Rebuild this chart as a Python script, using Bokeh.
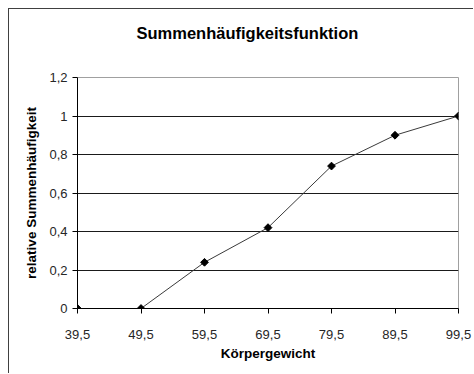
import math
from bokeh.plotting import figure
from bokeh.models import Range1d, FixedTicker, CustomJSTickFormatter, LinearAxis
from bokeh.embed import file_html
from bokeh.resources import INLINE

# Class boundaries (body weight) and cumulative relative frequencies
gewicht = [39.5, 49.5, 59.5, 69.5, 79.5, 89.5, 99.5]
summenhaeufigkeit = [0.0, 0.0, 0.24, 0.42, 0.74, 0.90, 1.0]
y_ticks = [0, 0.2, 0.4, 0.6, 0.8, 1.0, 1.2]

FONT = "Liberation Sans"

p = figure(width=465, height=365, output_backend="svg", toolbar_location=None,
           x_range=Range1d(39.5, 99.5), y_range=Range1d(0, 1.2),
           min_border_left=68, min_border_right=16,
           min_border_top=68, min_border_bottom=66,
           title="Summenhäufigkeitsfunktion")
p.styles = {"margin-left": "8px", "margin-top": "8px",
            "border-left": "1px solid #404040", "border-top": "1px solid #404040"}
p.background_fill_color = "white"
p.border_fill_color = "white"
p.outline_line_color = "#a0a0a0"
p.outline_line_width = 1

x_axis = p.below[0]
y_axis = p.left[0]

# blank axis on top keeps a gap between the title and the plot area
gap = LinearAxis(ticker=FixedTicker(ticks=[gewicht[0]]), axis_line_color=None,
                 major_tick_line_color="white", minor_tick_line_color=None,
                 major_tick_in=0, major_tick_out=36, major_label_standoff=0,
                 major_label_overrides={gewicht[0]: ""},
                 major_label_text_font_size="1px")
p.add_layout(gap, "above")

p.title.align = "left"
p.title.offset = 59
p.title.standoff = 0
p.title.text_font = FONT
p.title.text_font_size = "16.5px"
p.title.text_font_style = "bold"
p.title.text_color = "black"

# horizontal grid
p.xgrid.visible = False
p.ygrid.ticker = FixedTicker(ticks=y_ticks)
p.ygrid.grid_line_color = "#1a1a1a"
p.ygrid.grid_line_width = 1

comma = CustomJSTickFormatter(code="""
    if (Math.abs(tick) < 1e-9) return "0";
    if (Math.abs(tick - Math.round(tick)) < 1e-9) return String(Math.round(tick));
    return (Math.round(tick * 10) / 10).toFixed(1).replace('.', ',');
""")

for ax in (x_axis, y_axis):
    ax.axis_line_color = "black"
    ax.axis_line_width = 1
    ax.major_tick_line_color = "black"
    ax.major_tick_in = 0
    ax.major_tick_out = 5
    ax.minor_tick_line_color = None
    ax.major_label_text_font = FONT
    ax.major_label_text_font_size = "13px"
    ax.major_label_text_color = "#262626"
    ax.formatter = comma
    ax.axis_label_text_font = FONT
    ax.axis_label_text_font_size = "13.5px"
    ax.axis_label_text_font_style = "bold"
    ax.axis_label_text_color = "black"

x_axis.ticker = FixedTicker(ticks=gewicht)
y_axis.ticker = FixedTicker(ticks=y_ticks)
x_axis.major_label_standoff = 16
y_axis.major_label_standoff = 5
x_axis.axis_label = "Körpergewicht"
y_axis.axis_label = "relative Summenhäufigkeit"
x_axis.axis_label_standoff = 4
y_axis.axis_label_standoff = 7

# cumulative distribution line with diamond markers
p.line(gewicht, summenhaeufigkeit, line_color="#3a3a3a", line_width=1)
p.scatter(gewicht, summenhaeufigkeit, marker="square", angle=math.pi / 4, size=5.5,
          fill_color="black", line_color="black")

open("out.html", "w").write(file_html(p, INLINE))
